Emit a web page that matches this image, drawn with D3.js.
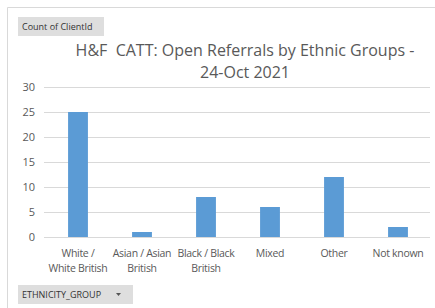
<!DOCTYPE html>
<html>
<head>
<meta charset="utf-8">
<script src="https://cdn.jsdelivr.net/npm/d3@7"></script>
<style>
  body { margin: 0; background: #fff; }
  svg { display: block; font-family: "Open Sans", "Noto Sans", sans-serif; }
</style>
</head>
<body>
<div id="chart"></div>
<script>
var width = 435,
    height = 308;

// data
var categories = ["White / White British", "Asian / Asian British", "Black / Black British", "Mixed", "Other", "Not known"];
var labelLines = [["White /", "White British"], ["Asian / Asian", "British"], ["Black / Black", "British"], ["Mixed"], ["Other"], ["Not known"]];
var counts = [25, 1, 8, 6, 12, 2];
var yTicks = [0, 5, 10, 15, 20, 25, 30];
var titleLines = ["H&F  CATT: Open Referrals by Ethnic Groups -", "24-Oct 2021"];

var textColor = "#595959";

var svg = d3.select("#chart")
    .append("svg")
    .attr("width", width)
    .attr("height", height);

// chart border
svg.append("path")
    .attr("d", "M7.5," + height + "V7.5H" + width)
    .attr("fill", "none")
    .attr("stroke", "#d9d9d9");

var x = d3.scaleBand()
    .domain(categories)
    .range([46, 430])
    .paddingInner(0.69)
    .paddingOuter(0.345);

var y = d3.scaleLinear()
    .domain([0, 30])
    .range([237, 87]);

// gridlines
svg.append("g")
    .selectAll("line")
    .data(yTicks)
    .enter()
    .append("line")
    .attr("x1", 44)
    .attr("x2", 430)
    .attr("y1", function (d) { return Math.round(y(d)) + 0.5; })
    .attr("y2", function (d) { return Math.round(y(d)) + 0.5; })
    .attr("stroke", "#d9d9d9");

// y axis labels
var yAxis = svg.append("g")
    .attr("transform", "translate(35,0)")
    .call(d3.axisLeft(y).tickValues(yTicks).tickSize(0).tickPadding(0));
yAxis.select(".domain").remove();
yAxis.selectAll("text")
    .attr("fill", textColor)
    .style("font-size", "11px")
    .style("font-family", "'Open Sans', sans-serif");

// bars
svg.append("g")
    .selectAll("rect")
    .data(counts)
    .enter()
    .append("rect")
    .attr("x", function (d, i) { return x(categories[i]); })
    .attr("width", x.bandwidth())
    .attr("y", function (d) { return y(d); })
    .attr("height", function (d) { return y(0) - y(d); })
    .attr("fill", "#5b9bd5");

// x labels
var xl = svg.append("g")
    .selectAll("text")
    .data(labelLines)
    .enter()
    .append("text")
    .attr("text-anchor", "middle")
    .attr("fill", textColor)
    .style("font-size", "10.5px")
    .style("letter-spacing", "-0.3px")
    .attr("y", 257);

xl.selectAll("tspan")
    .data(function (d, i) { return d.map(function (t) { return { t: t, i: i }; }); })
    .enter()
    .append("tspan")
    .attr("x", function (d) { return x(categories[d.i]) + x.bandwidth() / 2; })
    .attr("dy", function (d, j) { return j === 0 ? 0 : 15; })
    .text(function (d) { return d.t; });

// title
svg.append("g")
    .selectAll("text")
    .data(titleLines)
    .enter()
    .append("text")
    .attr("x", 245)
    .attr("y", function (d, i) { return 56 + i * 22; })
    .attr("text-anchor", "middle")
    .attr("fill", textColor)
    .style("font-size", "16px")
    .style("white-space", "pre")
    .text(function (d) { return d; });

// field buttons
function fieldButton(bx, by, bw, bh, label, arrow) {
    var g = svg.append("g").attr("transform", "translate(" + bx + "," + by + ")");
    g.append("rect")
        .attr("width", bw)
        .attr("height", bh)
        .attr("fill", "#dedede");
    g.append("text")
        .attr("x", 4)
        .attr("y", bh / 2)
        .attr("dy", "0.35em")
        .attr("fill", "#333")
        .style("font-size", "9px")
        .text(label);
    if (arrow) {
        g.append("path")
            .attr("d", "M" + (bw - 17) + "," + (bh / 2 - 1.5) + "h5l-2.5,3z")
            .attr("fill", "#555");
    }
}

fieldButton(18, 17, 86, 19, "Count of ClientId", false);
fieldButton(18, 285, 115, 19, "ETHNICITY_GROUP", true);
</script>
</body>
</html>
